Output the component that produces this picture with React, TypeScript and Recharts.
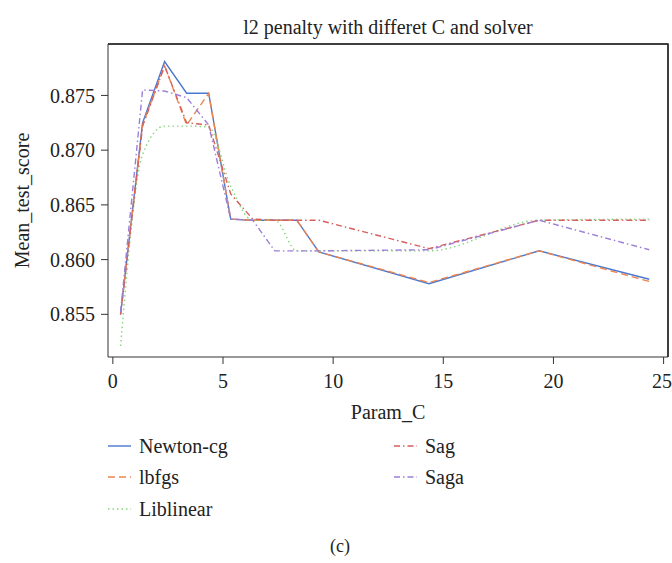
import React from 'react';
import { LineChart, Line, XAxis, YAxis, Label } from 'recharts';

const paramC = [0.35, 1.35, 2.35, 3.35, 4.35, 5.35, 6.35, 7.35, 8.35, 9.35, 14.35, 19.35, 24.35];
const newtonCg = [0.855, 0.8725, 0.8781, 0.8752, 0.8752, 0.8637, 0.8636, 0.8636, 0.8636, 0.8607, 0.8578, 0.8608, 0.8582];
const lbfgs = [0.855, 0.8723, 0.8777, 0.8723, 0.8752, 0.8637, 0.8636, 0.8636, 0.8636, 0.8607, 0.8579, 0.8608, 0.858];
const liblinear = [0.8521, 0.8696, 0.8722, 0.8722, 0.8721, 0.8667, 0.8636, 0.8636, 0.8608, 0.8608, 0.8608, 0.8636, 0.8637];
const sag = [0.855, 0.8722, 0.8777, 0.8725, 0.8723, 0.866, 0.8637, 0.8636, 0.8636, 0.8636, 0.861, 0.8636, 0.8636];
const saga = [0.8552, 0.8755, 0.8754, 0.8748, 0.8723, 0.8637, 0.8636, 0.8608, 0.8608, 0.8608, 0.8609, 0.8636, 0.8609];

const xTicks = [0, 5, 10, 15, 20, 25];
const yTicks = [0.855, 0.86, 0.865, 0.87, 0.875];
const xDomain = [-0.22, 25.2];
const yDomain = [0.8511, 0.8797];

const data = paramC.map((c, i) => ({
  paramC: c,
  newtonCg: newtonCg[i],
  lbfgs: lbfgs[i],
  liblinear: liblinear[i],
  sag: sag[i],
  saga: saga[i],
}));

const series = [
  { key: 'newtonCg', name: 'Newton-cg', color: '#4a78cf', dash: undefined, curve: 'linear' },
  { key: 'lbfgs', name: 'lbfgs', color: '#ec8650', dash: '7 4', curve: 'linear' },
  { key: 'liblinear', name: 'Liblinear', color: '#86d77f', dash: '1.5 3', curve: 'monotone' },
  { key: 'sag', name: 'Sag', color: '#d65f5f', dash: '6 3 1.5 3', curve: 'linear' },
  { key: 'saga', name: 'Saga', color: '#9c7ed8', dash: '6 3 1.5 3', curve: 'linear' },
];

// legend slots: left column three rows, right column two rows
const legendPos = [
  { left: 108, top: 446 },
  { left: 108, top: 477 },
  { left: 108, top: 509 },
  { left: 394, top: 446 },
  { left: 394, top: 477 },
];

const font = '"Times New Roman", "Liberation Serif", Times, serif';
const frame = '#333';
const tickStyle = { fill: '#222', fontSize: 20, fontFamily: font };

const App: React.FC = () => {
  return (
    <div style={{ position: 'relative', width: 672, height: 563, background: '#fff', fontFamily: font, color: '#222' }}>
      <style>{'body { margin: 0; }'}</style>
      <div style={{ position: 'absolute', left: 108, width: 560, top: 16, textAlign: 'center', fontSize: 20, fontFamily: font }}>
        l2 penalty with differet C and solver
      </div>
      <LineChart width={672} height={563} data={data} margin={{ top: 42, right: 2, bottom: 0, left: 0 }} style={{ fontFamily: font }}>
        <XAxis
          dataKey="paramC"
          type="number"
          domain={xDomain}
          ticks={xTicks}
          allowDataOverflow
          height={206}
          tickSize={7}
          tickMargin={10}
          stroke={frame}
          tick={tickStyle}
        >
          <Label value="Param_C" position="insideTop" offset={48} style={{ fill: '#222', fontSize: 20, fontFamily: font }} />
        </XAxis>
        {/* top edge of the box */}
        <XAxis
          xAxisId="top"
          orientation="top"
          dataKey="paramC"
          type="number"
          domain={xDomain}
          allowDataOverflow
          height={2}
          tick={false}
          tickLine={false}
          axisLine={{ stroke: frame, strokeWidth: 1.5 }}
        />
        <YAxis
          type="number"
          domain={yDomain}
          ticks={yTicks}
          allowDataOverflow
          width={108}
          tickSize={7}
          tickMargin={6}
          stroke={frame}
          tick={tickStyle}
          tickFormatter={(v: number) => v.toFixed(3)}
        >
          <Label
            value="Mean_test_score"
            angle={-90}
            position="insideLeft"
            offset={22}
            textAnchor="middle"
            style={{ fill: '#222', fontSize: 20, fontFamily: font, textAnchor: 'middle' }}
          />
        </YAxis>
        {/* right edge of the box */}
        <YAxis
          yAxisId="right"
          orientation="right"
          type="number"
          domain={yDomain}
          allowDataOverflow
          width={2}
          tick={false}
          tickLine={false}
          axisLine={{ stroke: frame, strokeWidth: 1.5 }}
        />
        {series.map((s) => (
          <Line
            key={s.key}
            type={s.curve as any}
            dataKey={s.key}
            name={s.name}
            stroke={s.color}
            strokeWidth={1.4}
            strokeDasharray={s.dash}
            dot={false}
            activeDot={false}
            isAnimationActive={false}
          />
        ))}
      </LineChart>
      {/* overlay outline of the plot box, in case the extra axes draw nothing */}
      <svg width={672} height={563} style={{ position: 'absolute', left: 0, top: 0, pointerEvents: 'none' }}>
        <path d="M108 44 H668 V357" fill="none" stroke={frame} strokeWidth={1.5} />
      </svg>
      {series.map((s, i) => (
        <div
          key={s.key}
          style={{ position: 'absolute', left: legendPos[i].left, top: legendPos[i].top - 12, height: 24, display: 'flex', alignItems: 'center', fontSize: 20 }}
        >
          <svg width={23} height={4} style={{ marginRight: 8 }}>
            <line x1={0} y1={2} x2={23} y2={2} stroke={s.color} strokeWidth={1.4} strokeDasharray={s.dash} />
          </svg>
          <span>{s.name}</span>
        </div>
      ))}
      <div style={{ position: 'absolute', left: 0, width: 680, top: 536, textAlign: 'center', fontSize: 18 }}>(c)</div>
    </div>
  );
};

export default App;
